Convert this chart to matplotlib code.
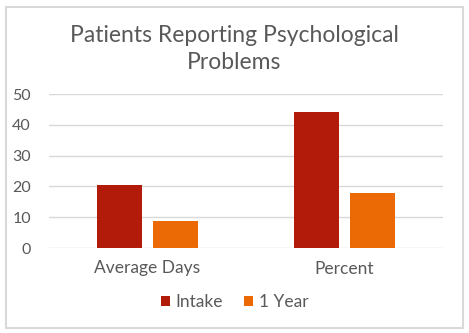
import matplotlib
matplotlib.use("Agg")
import matplotlib.pyplot as plt
from matplotlib.patches import Rectangle
import numpy as np

categories = ["Average Days", "Percent"]
series_names = ["Intake", "1 Year"]
intake = [20.5, 44]
one_year = [8.7, 18]
yticks = [0, 10, 20, 30, 40, 50]

colors = ["#B21A0A", "#EC6A05"]
text_color = "#595959"
grid_color = "#D9D9D9"

plt.rcParams['font.family'] = ['Lato', 'DejaVu Sans']

fig = plt.figure(figsize=(4.69, 3.33), dpi=100)
fig.patch.set_facecolor("white")
fig.patches.append(Rectangle((6/469, 5/333), 457/469, 321/333, transform=fig.transFigure,
                             fill=False, edgecolor="#D9D9D9", linewidth=1.5))

ax = fig.add_axes([49/469, 1-248/333, 394/469, 154/333])
x = np.arange(len(categories))
w = 0.23
off = 0.143
ax.bar(x - off, intake, w, color=colors[0], label=series_names[0], zorder=3)
ax.bar(x + off, one_year, w, color=colors[1], label=series_names[1], zorder=3)

ax.set_xlim(-0.5, 1.5)
ax.set_ylim(0, 50)
ax.set_yticks(yticks)
ax.set_xticks(x)
ax.set_xticklabels(categories, fontsize=12.5)
ax.tick_params(axis='both', length=0, colors=text_color)
ax.tick_params(axis='y', pad=13, labelsize=11.5)
ax.tick_params(axis='x', pad=9)
ax.grid(axis='y', color=grid_color, linewidth=1, zorder=0)
for s in ax.spines.values():
    s.set_visible(False)

fig.text(0.5, 1-49/333, "Patients Reporting Psychological\nProblems", ha='center', va='center',
         fontsize=16.5, color=text_color, linespacing=1.3)

leg = fig.legend(loc='center', bbox_to_anchor=(0.5, 1-302/333), ncol=2, frameon=False,
                 fontsize=12.5, handlelength=0.55, handleheight=0.55, handletextpad=0.3,
                 columnspacing=1.2, labelcolor=text_color)

fig.savefig("out.png", dpi=100)
